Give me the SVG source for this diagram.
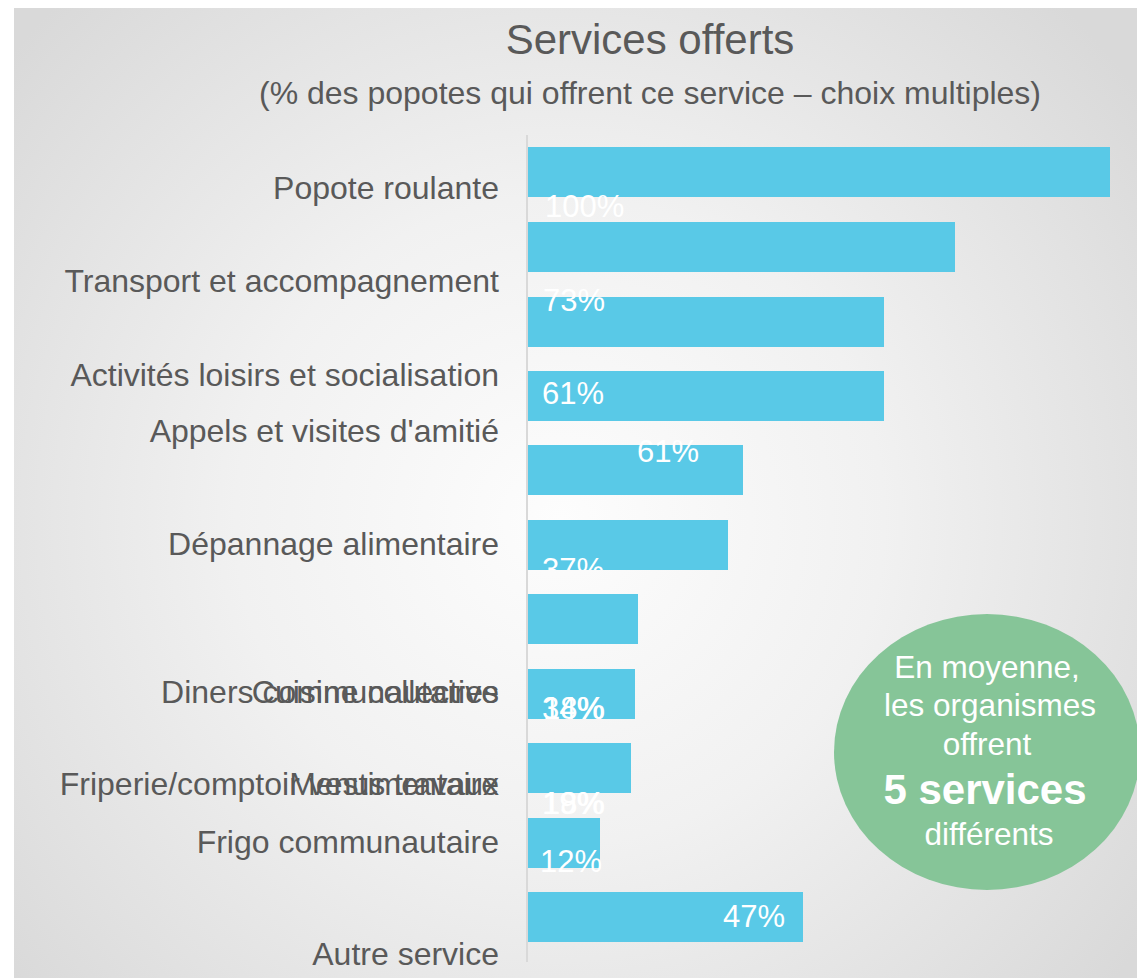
<svg xmlns="http://www.w3.org/2000/svg" width="1137" height="978" viewBox="0 0 1137 978">
<defs>
<radialGradient id="bg" cx="560" cy="520" r="720" gradientUnits="userSpaceOnUse">
<stop offset="0" stop-color="#fdfdfd"/>
<stop offset="0.45" stop-color="#f1f1f1"/>
<stop offset="1" stop-color="#d9d9d9"/>
</radialGradient>
<clipPath id="clip37"><rect x="520" y="500" width="300" height="70"/></clipPath>
<style>
.t{font-family:"Liberation Sans",Arial,sans-serif;fill:#595959}
.cat{font-family:"Liberation Sans",Arial,sans-serif;fill:#595959;font-size:32px;text-anchor:end}
.val{font-family:"Liberation Sans",Arial,sans-serif;fill:#ffffff;font-size:31px}
.bar{fill:#59c9e7}
.ct{font-family:"Liberation Sans",Arial,sans-serif;fill:#ffffff;font-size:31.5px;text-anchor:middle}
.big{font-size:42px;font-weight:bold}
</style>
</defs>
<rect x="0" y="0" width="1137" height="978" fill="#ffffff"/>
<rect x="14" y="8" width="1123" height="970" fill="url(#bg)"/>
<text class="t" x="650" y="54" font-size="42" text-anchor="middle">Services offerts</text>
<text class="t" x="650" y="104" font-size="32" text-anchor="middle">(% des popotes qui offrent ce service – choix multiples)</text>
<g id="axis"><line x1="527" y1="135" x2="527" y2="962" stroke="#d9d9d9" stroke-width="2"/></g>
<g id="bars">
<rect class="bar" x="528" y="147" width="582" height="50"/>
<rect class="bar" x="528" y="222" width="427" height="50"/>
<rect class="bar" x="528" y="297" width="356" height="50"/>
<rect class="bar" x="528" y="371" width="356" height="50"/>
<rect class="bar" x="528" y="445" width="215" height="50"/>
<rect class="bar" x="528" y="520" width="200" height="50"/>
<rect class="bar" x="528" y="594" width="110" height="50"/>
<rect class="bar" x="528" y="669" width="107" height="50"/>
<rect class="bar" x="528" y="743" width="103" height="50"/>
<rect class="bar" x="528" y="818" width="72" height="50"/>
<rect class="bar" x="528" y="892" width="275" height="50"/>
</g>
<g id="categories">
<text class="cat" x="499" y="199">Popote roulante</text>
<text class="cat" x="499" y="292">Transport et accompagnement</text>
<text class="cat" x="499" y="386">Activités loisirs et socialisation</text>
<text class="cat" x="499" y="442">Appels et visites d'amitié</text>
<text class="cat" x="499" y="555">Dépannage alimentaire</text>
<text class="cat" x="499" y="703">Diners communautaires</text>
<text class="cat" x="499" y="703">Cuisine collective</text>
<text class="cat" x="499" y="795">Friperie/comptoir vestimentaire</text>
<text class="cat" x="499" y="795">Menus travaux</text>
<text class="cat" x="499" y="853">Frigo communautaire</text>
<text class="cat" x="499" y="965">Autre service</text>
</g>
<g id="values">
<text class="val" x="545" y="217">100%</text>
<text class="val" x="543" y="311">73%</text>
<text class="val" x="542" y="404">61%</text>
<text class="val" x="637" y="462">61%</text>
<text class="val" x="542" y="580" clip-path="url(#clip37)">37%</text>
<text class="val" x="542" y="719">34%</text>
<text class="val" x="543" y="719">18%</text>
<text class="val" x="542" y="814">19%</text>
<text class="val" x="543" y="814">18%</text>
<text class="val" x="540" y="872">12%</text>
<text class="val" x="723" y="927">47%</text>
</g>
<g id="summary">
<ellipse cx="987" cy="752" rx="153" ry="138" fill="#86c598"/>
<text class="ct" x="987" y="678">En moyenne,</text>
<text class="ct" x="990" y="716">les organismes</text>
<text class="ct" x="987" y="755">offrent</text>
<text class="ct big" x="985" y="804">5 services</text>
<text class="ct" x="989" y="845">différents</text>
</g>
</svg>
